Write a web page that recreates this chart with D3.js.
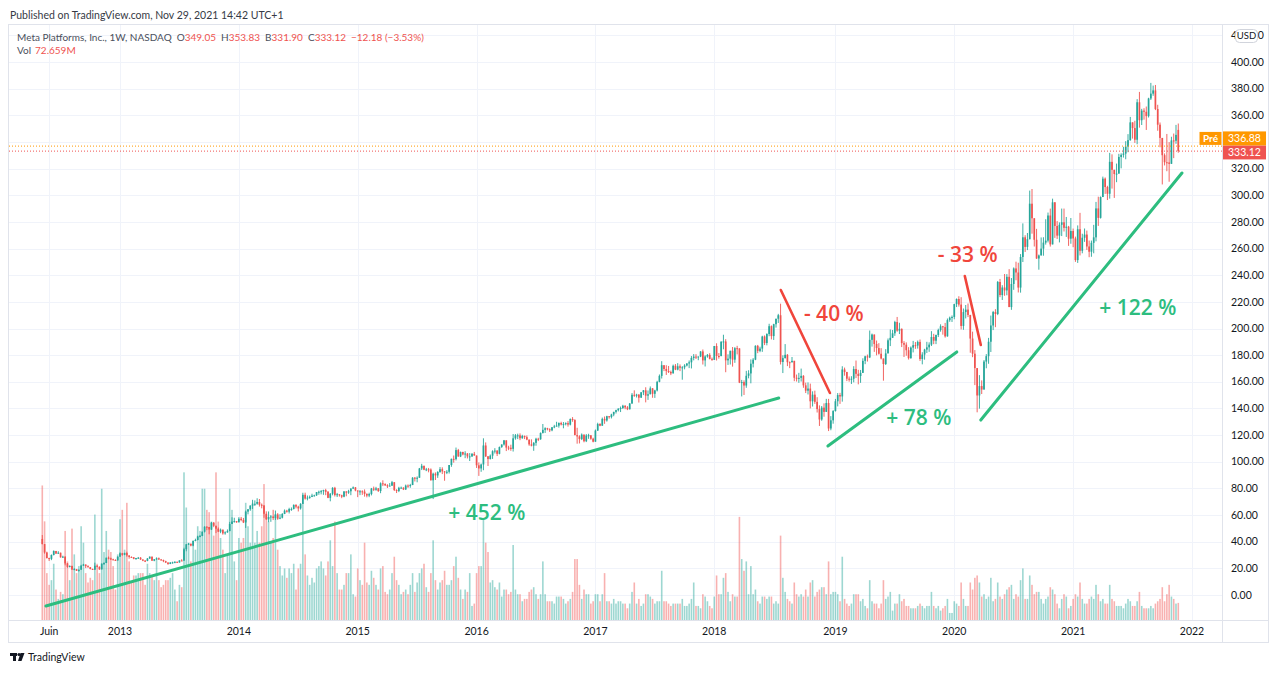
<!DOCTYPE html>
<html><head><meta charset="utf-8">
<script src="https://cdn.jsdelivr.net/npm/d3@7"></script>
<style>html,body{margin:0;padding:0;background:#fff;}svg{display:block;font-family:"Lato","Open Sans",sans-serif;}</style>
</head><body><svg id="c" width="1280" height="673"></svg>
<script>
// ---------- DATA (weekly bars, FB / META, from week of 14 May 2012) ----------
const firstWeek = new Date(2012, 4, 14);
const ipoOpen = 42.05;
const lastOpen = 349.05, lastHigh = 353.83, lastLow = 331.90, lastClose = 333.12;
const lastChange = "\u221212.18 (\u22123.53%)", lastVol = "72.659M";
const prePrice = 336.88;

const closes = [
/*2012*/38.23,31.91,27.72,27.10,30.01,33.05,31.10,31.73,28.25,28.76,23.71,21.09,21.81,19.05,19.41,18.06,18.98,22.00,22.86,21.66,20.91,19.52,19.00,21.94,21.18,19.21,23.56,24.00,28.00,27.49,26.81,26.26,25.91,
/*2013*/28.76,31.30,30.14,31.54,29.73,28.55,28.32,27.13,27.78,28.00,26.65,25.73,25.58,27.39,28.79,25.73,26.85,27.57,26.68,26.25,25.42,24.35,23.29,24.37,24.53,24.88,24.37,25.91,25.88,34.36,38.05,38.50,37.08,40.55,41.29,43.95,44.31,47.49,51.24,51.04,49.11,54.22,51.95,49.75,47.53,49.01,46.23,47.01,47.94,53.32,55.12,55.44,
/*2014*/54.56,57.22,56.30,54.45,62.57,64.32,67.09,68.06,68.46,69.80,67.72,67.24,60.97,56.75,58.53,58.94,57.71,60.46,57.24,58.02,60.78,63.30,62.50,64.50,64.50,67.60,66.29,64.97,68.42,75.19,72.36,73.06,73.63,74.57,74.82,77.26,77.48,77.91,78.70,77.44,72.91,75.95,80.42,74.99,75.60,74.88,73.75,77.70,76.84,77.83,79.88,80.78,
/*2015*/78.45,77.74,77.83,77.65,75.91,74.60,75.74,79.90,78.97,80.01,78.05,83.80,83.30,82.32,82.04,82.04,84.63,78.79,78.10,80.41,80.55,79.19,82.11,82.05,82.51,88.01,87.55,87.98,94.97,96.95,94.01,94.30,94.14,86.06,91.01,89.73,92.31,94.40,92.77,92.07,92.47,97.54,102.19,101.97,108.76,103.94,107.32,105.45,106.18,104.04,104.04,105.93,104.66,
/*2016*/97.33,94.97,97.94,112.21,104.07,102.01,104.57,107.92,108.39,105.96,111.02,112.95,116.06,110.63,110.51,109.66,117.58,119.81,119.81,117.65,119.38,118.47,116.62,113.02,112.08,114.19,117.24,116.86,121.63,123.94,125.15,124.38,123.56,125.86,126.51,127.10,129.07,127.96,128.27,128.99,127.88,132.07,131.29,120.00,119.02,117.02,120.38,115.40,119.68,119.87,117.27,115.05,
/*2017*/123.41,128.34,127.04,132.18,130.98,134.19,133.53,135.44,137.42,138.71,139.84,140.34,142.05,140.78,139.39,143.68,150.25,150.24,150.33,148.06,152.13,153.63,149.60,150.64,155.07,150.98,153.50,159.97,164.43,172.45,169.62,168.08,167.41,166.32,172.02,169.15,171.64,170.54,170.87,172.23,173.74,174.60,177.88,178.92,178.46,179.00,182.78,176.06,179.00,180.18,177.20,176.46,
/*2018*/186.85,179.37,179.26,190.00,190.28,176.11,177.36,183.29,176.62,185.23,185.09,159.39,159.79,157.20,164.52,166.28,173.59,176.61,186.99,183.20,184.92,193.99,189.10,195.85,201.74,194.32,203.23,207.32,209.94,174.89,177.78,180.26,174.70,174.65,175.73,163.04,162.32,162.93,164.46,157.33,153.35,154.92,145.37,150.35,144.96,139.53,131.73,140.61,137.42,144.06,124.95,131.09,
/*2019*/138.05,145.39,150.04,149.01,169.25,167.33,162.33,161.89,162.28,169.60,165.98,164.34,166.69,175.72,179.10,178.28,191.49,195.47,188.34,185.30,181.06,177.47,173.35,181.33,191.14,193.00,196.40,204.87,198.36,199.75,189.02,187.85,183.70,177.75,185.67,187.49,187.19,189.93,177.10,180.45,184.19,185.85,187.89,193.62,190.84,195.10,198.82,201.64,201.05,194.11,206.30,208.10,
/*2020*/208.67,218.30,222.14,217.94,201.91,212.33,214.18,210.18,192.47,181.09,170.28,149.73,156.79,154.18,175.19,179.24,190.07,202.27,212.35,210.88,234.91,225.09,230.77,228.58,238.79,216.08,233.42,245.07,242.03,230.71,253.67,268.44,261.24,267.01,293.66,282.73,266.61,252.53,254.82,259.94,264.45,265.93,284.79,263.11,294.68,276.95,269.70,277.81,279.70,275.55,276.40,267.40,273.16,
/*2021*/267.57,251.36,274.50,258.33,268.10,270.50,261.56,257.62,264.28,268.40,290.11,283.02,298.66,312.46,306.18,301.13,325.08,319.08,315.94,316.23,328.73,330.35,331.26,336.51,341.37,354.70,350.42,341.66,369.79,356.30,363.51,362.65,359.37,372.63,376.26,378.69,364.72,352.96,343.01,330.05,324.76,324.61,323.57,341.13,340.89,345.30,333.12
];
const highs = [
/*2012*/45.00,36.66,32.50,28.00,30.45,33.45,32.90,32.88,31.79,29.50,29.00,24.04,22.24,21.95,20.08,19.56,19.05,22.65,23.37,22.95,22.30,20.96,19.80,24.25,22.35,21.45,23.60,24.52,28.00,28.88,28.03,27.25,26.84,
/*2013*/28.93,31.96,31.60,31.71,32.51,29.17,28.99,28.37,27.80,28.55,28.43,26.75,26.26,27.75,28.90,28.50,27.00,28.24,28.15,27.04,26.57,25.72,24.58,24.72,25.00,25.39,25.12,26.11,26.86,35.49,38.29,39.00,38.49,40.59,42.26,44.49,45.08,47.60,51.60,51.60,51.04,54.83,54.80,52.00,50.71,49.88,49.13,47.74,49.20,54.88,58.32,57.97,
/*2014*/55.22,58.41,58.58,57.84,63.37,64.55,67.33,71.44,71.00,72.59,72.04,68.67,66.87,62.79,62.71,60.00,63.92,63.38,61.45,60.66,61.50,64.20,63.94,65.46,65.70,68.00,68.15,66.98,68.90,76.74,76.80,74.68,74.66,75.99,75.30,77.26,78.30,78.80,79.00,79.70,78.04,76.54,80.90,81.16,76.60,75.44,75.28,77.97,77.90,78.93,80.07,81.45,
/*2015*/81.00,78.46,78.80,78.60,79.25,76.22,76.74,80.34,81.37,81.16,80.29,84.50,86.07,83.85,83.13,84.00,85.59,84.73,79.38,81.20,81.35,80.85,82.85,82.99,83.42,88.45,88.55,89.00,95.34,98.45,97.08,95.40,95.35,95.00,91.80,92.00,92.90,96.00,95.83,92.99,93.76,97.54,102.35,104.67,110.65,109.65,107.68,107.52,107.90,106.54,106.50,106.50,107.37,
/*2016*/102.24,99.49,98.65,117.59,114.50,104.24,105.45,108.61,110.19,108.60,111.43,113.00,116.34,113.00,111.99,112.80,120.79,120.80,121.08,121.28,120.23,119.65,119.70,116.42,116.81,114.74,117.99,118.00,121.98,128.33,125.84,125.46,125.11,126.09,127.70,130.00,129.53,130.05,129.81,129.57,130.50,132.51,133.50,131.94,125.50,119.88,121.23,120.24,120.76,121.00,119.75,118.02,
/*2017*/124.20,129.27,128.93,133.14,133.98,134.50,134.20,136.02,137.48,139.04,140.15,141.43,142.72,142.35,141.78,144.09,151.53,153.60,151.00,150.80,152.25,153.80,155.89,153.48,156.50,155.29,153.99,160.74,165.50,175.49,171.45,172.44,171.87,168.40,172.92,173.33,174.00,173.05,171.76,173.21,174.00,176.00,179.33,180.80,180.74,179.00,183.00,184.25,179.91,180.85,181.45,178.24,
/*2018*/186.90,188.90,181.58,190.55,195.32,192.00,180.60,183.32,186.10,186.02,187.00,177.17,161.42,161.10,168.23,168.66,176.80,177.77,187.40,187.67,186.33,194.55,194.80,196.39,203.55,202.30,203.55,207.32,210.98,218.62,179.88,188.30,180.76,175.28,178.60,175.75,165.44,166.73,169.92,164.98,159.36,159.53,158.64,152.86,153.35,148.43,142.31,141.84,143.81,147.19,147.19,134.24,
/*2019*/138.75,147.13,151.55,151.69,171.68,170.66,167.48,164.00,164.19,171.70,175.96,169.00,168.87,177.65,179.56,180.43,198.48,196.18,193.63,190.98,189.00,185.24,173.80,184.50,192.49,199.26,198.88,205.78,208.66,204.30,200.04,190.50,189.60,186.00,186.54,190.70,189.82,190.97,191.73,182.21,184.76,190.00,189.63,198.00,196.00,195.42,199.86,203.14,201.97,204.19,207.50,208.93,
/*2020*/209.79,218.54,222.56,224.20,223.49,215.00,217.64,218.77,208.00,197.64,183.80,169.17,165.00,161.06,176.30,180.79,192.96,209.69,213.20,214.50,235.67,237.20,232.50,240.90,240.83,244.55,237.87,245.84,250.15,249.35,255.85,278.89,270.00,271.68,303.50,304.67,280.00,274.78,255.50,268.33,268.48,282.00,287.00,289.97,297.44,294.88,280.60,279.62,290.00,290.00,283.70,277.00,282.92,
/*2021*/275.00,268.95,277.36,286.79,271.13,275.04,273.48,266.00,266.00,277.78,295.00,298.90,299.12,314.00,313.35,307.10,331.81,330.69,318.39,323.76,331.09,331.49,336.34,340.60,345.86,358.79,354.70,355.90,372.12,377.55,364.84,365.29,366.58,373.15,384.33,382.30,382.76,367.90,354.60,338.98,331.39,346.00,339.86,343.91,346.31,352.80,353.83
];
const lows = [
/*2012*/38.00,31.00,27.39,25.52,26.15,29.70,30.76,30.80,28.10,27.90,22.28,20.40,20.70,18.98,18.88,18.02,17.55,19.24,21.90,20.20,20.50,19.22,18.80,18.83,20.80,18.87,19.50,22.55,25.10,26.76,26.26,26.00,25.60,
/*2013*/26.11,28.65,29.42,29.88,28.74,27.25,27.94,26.82,26.34,27.07,26.35,25.39,24.72,25.33,27.10,25.70,25.35,26.36,26.30,25.85,24.63,23.96,22.67,23.18,23.52,23.84,24.15,24.32,25.50,25.51,32.80,37.57,36.53,36.60,40.26,41.03,43.30,44.15,46.92,48.64,45.55,48.78,50.90,46.44,47.25,46.38,45.26,45.25,46.71,48.59,53.35,54.37,
/*2014*/54.19,54.48,55.38,54.00,50.34,60.50,63.20,64.56,66.85,67.74,66.33,65.05,57.98,56.50,54.66,54.92,56.25,56.27,56.40,56.87,57.46,60.70,61.80,61.19,63.20,64.25,65.00,62.69,64.10,68.41,71.59,71.02,72.19,73.48,73.90,74.31,75.23,75.51,75.17,74.90,72.66,70.32,74.82,73.91,73.52,73.85,72.66,73.34,74.08,75.90,74.90,79.50,
/*2015*/77.84,73.45,74.94,75.12,73.82,73.29,73.43,74.74,78.02,78.22,77.29,76.40,81.75,81.79,80.30,81.81,81.88,78.03,76.52,77.21,79.91,78.76,78.81,80.38,80.48,82.65,85.20,84.59,88.30,93.78,93.67,92.94,92.06,85.97,72.00,86.30,87.89,91.70,90.75,85.75,90.72,91.15,96.20,99.30,100.99,103.76,103.50,104.81,102.69,102.48,100.55,103.57,104.58,
/*2016*/95.35,89.37,92.45,93.64,103.58,96.82,101.74,102.12,106.20,104.30,105.57,110.44,112.14,108.02,108.69,108.23,107.65,116.54,117.00,116.20,117.24,117.00,116.17,111.98,111.53,108.23,112.00,115.50,116.49,121.19,121.61,123.54,122.31,122.91,125.17,126.69,125.59,127.25,125.10,127.29,126.37,127.29,130.00,119.85,113.55,113.75,116.27,114.58,114.76,117.21,116.52,114.56,
/*2017*/116.50,123.10,126.65,127.01,128.46,130.10,132.33,132.50,134.16,136.21,137.76,137.30,139.55,139.41,138.75,139.18,143.55,148.70,148.23,144.42,148.69,150.02,144.56,146.42,151.40,148.01,147.92,152.78,159.63,162.47,168.03,165.15,166.60,165.02,166.25,168.74,168.61,168.02,161.56,169.36,171.54,170.27,170.02,176.10,177.12,176.20,178.51,172.95,171.50,178.08,176.80,175.75,
/*2018*/177.68,176.00,177.40,180.00,184.40,167.18,172.66,172.98,171.38,174.23,180.52,159.02,149.02,150.11,155.50,162.60,158.86,170.80,176.23,181.48,182.22,182.47,187.56,187.35,194.22,191.80,191.40,200.68,204.16,173.00,166.56,177.50,171.77,170.27,174.51,160.45,160.20,159.22,160.20,155.50,151.55,150.50,140.00,141.44,143.40,136.95,126.85,130.78,133.80,138.06,123.02,123.63,
/*2019*/128.56,137.67,141.55,143.43,145.10,164.58,160.51,160.10,158.38,159.59,162.81,158.09,159.22,167.50,173.24,175.21,177.80,186.40,182.46,179.85,180.41,176.82,160.84,172.60,181.38,186.80,193.48,194.47,197.54,195.83,186.07,178.63,179.58,176.70,177.31,182.05,184.74,184.92,175.66,173.10,176.61,181.64,182.47,186.85,188.26,188.28,193.59,197.60,195.37,193.15,193.85,205.04,
/*2020*/204.92,206.95,216.08,216.40,199.30,199.01,207.56,208.58,181.82,178.48,157.51,137.10,139.85,150.83,160.80,170.15,173.53,182.37,198.81,201.00,210.03,223.50,221.39,224.56,224.93,216.08,214.00,229.02,236.20,227.05,226.90,249.90,257.42,258.83,266.90,271.15,261.53,252.29,244.13,256.34,254.61,262.95,264.60,261.47,263.67,268.00,267.20,264.60,269.36,272.80,268.72,262.00,263.61,
/*2021*/261.02,250.00,249.21,254.84,256.43,265.00,258.96,253.50,253.83,256.44,265.42,277.00,282.51,299.73,301.00,296.41,297.46,305.00,298.00,309.80,319.33,320.20,328.27,327.00,332.29,340.91,342.50,339.30,338.26,350.73,352.71,356.71,349.00,358.34,371.50,374.63,363.90,348.40,336.02,308.11,322.38,318.04,310.12,327.59,327.86,338.62,331.90
];
// weekly volume, millions of shares
const volumes = [
/*2012*/574,421,200,150,170,240,130,90,120,110,380,250,170,390,280,200,230,400,330,200,160,180,170,450,240,200,560,290,380,300,290,230,130,
/*2013*/280,430,470,300,500,250,160,190,190,200,200,200,150,240,200,190,170,260,170,140,150,170,170,180,200,130,80,150,140,630,480,330,250,340,300,400,380,560,560,470,460,420,360,630,420,350,300,200,280,560,470,250,
/*2014*/170,350,330,350,500,400,330,500,330,380,330,400,580,450,420,330,350,450,300,230,190,220,180,220,200,240,130,220,240,500,280,190,150,180,160,220,230,250,220,190,250,340,230,420,200,130,130,150,200,200,280,110,
/*2015*/100,220,170,150,330,160,150,210,180,150,130,220,230,120,110,130,200,270,170,150,110,120,130,110,150,200,120,160,200,220,240,140,120,200,340,170,130,160,170,210,150,150,170,230,270,180,130,90,130,120,200,60,70,
/*2016*/200,230,230,430,330,290,160,170,140,130,160,100,130,130,110,120,320,130,110,110,80,90,90,120,130,140,110,90,110,250,110,80,80,80,70,100,100,100,90,70,80,90,120,260,260,150,90,130,110,110,70,80,
/*2017*/110,110,80,110,200,80,80,70,90,70,80,80,70,70,50,70,120,160,70,90,60,70,110,110,100,90,70,80,80,210,80,80,70,60,70,70,70,70,90,60,60,70,90,160,60,60,50,110,100,80,60,50,
/*2018*/100,190,110,110,180,200,120,80,110,100,100,440,260,210,250,110,230,110,130,80,70,100,100,90,100,100,70,80,70,360,180,120,90,80,70,160,110,100,110,100,130,100,160,170,100,120,130,140,140,110,250,110,
/*2019*/120,120,110,80,270,90,70,60,70,110,110,110,80,90,60,50,170,80,70,70,50,70,170,90,100,120,40,70,70,110,80,90,60,60,50,50,50,60,70,60,50,60,60,120,60,50,60,40,50,60,90,30,
/*2020*/30,80,70,60,160,90,60,60,160,130,180,190,160,100,110,90,100,180,80,90,160,100,90,110,130,140,150,90,110,100,170,220,90,90,190,150,110,120,120,90,70,90,100,140,130,110,70,50,90,110,100,50,60,
/*2021*/90,110,100,160,90,70,70,90,100,90,150,110,80,90,70,70,150,90,80,60,60,60,50,70,90,80,60,60,80,120,60,50,50,50,60,50,70,80,90,140,80,110,150,100,90,70,73
];
const priceTicks = d3.range(0, 421, 20);
const timeLabels = ["Juin","2013","2014","2015","2016","2017","2018","2019","2020","2021","2022"];
const timeLabelWeeks = [new Date(2012,5,4),new Date(2013,0,7),new Date(2014,0,6),new Date(2015,0,5),new Date(2016,0,4),new Date(2017,0,2),new Date(2018,0,1),new Date(2019,0,7),new Date(2020,0,6),new Date(2021,0,4),new Date(2022,0,3)];
// drawn trend lines: [week index from first bar, price]
const trendLines = [
  {from:[1.6,-8.3],  to:[322.2,147.8], kind:"up"},
  {from:[323.1,228.9], to:[344.6,151.6], kind:"down"},
  {from:[343.7,111.8], to:[400.1,182.4], kind:"up"},
  {from:[403.6,239.4], to:[410.6,187.6], kind:"down"},
  {from:[410.6,131.3], to:[498.6,316.7], kind:"up"}
];
const moveLabels = [
  {text:"+ 452 %", at:[194.5,62.3],  kind:"up"},
  {text:"- 40 %",  at:[346.3,211.6], kind:"down"},
  {text:"+ 78 %",  at:[383.5,133.6], kind:"up"},
  {text:"- 33 %",  at:[404.9,255.9], kind:"down"},
  {text:"+ 122 %", at:[479.3,216.1], kind:"up"}
];

// ---------- LAYOUT ----------
const W = 1280, H = 673;
const paneL = 9, paneR = 1222.5, paneT = 24.5, paneB = 620.5, frameR = 1268.5, frameB = 642.5;
const upCol = "#26a69a", downCol = "#ef5350";
const upVol = "rgba(38,166,154,0.45)", downVol = "rgba(239,83,80,0.45)";
const drawCol = {up:"#2dbd7f", down:"#f0453b"};

const svg = d3.select("#c");
const N = closes.length;
const dates = d3.range(N).map(i => d3.timeMonday.offset(firstWeek, i));
const x = d3.scaleTime().domain([new Date(2013,0,7), new Date(2022,0,3)]).range([120, 1192]);
const y = d3.scaleLinear().domain([0, 400]).range([595, 62]);
const yv = d3.scaleLinear().domain([0, 640]).range([620, 470]);
const xIdx = i => x(new Date(firstWeek.getTime() + i * 7 * 864e5));

svg.append("rect").attr("width", W).attr("height", H).attr("fill", "#fff");
svg.append("defs").append("clipPath").attr("id","pane").append("rect")
  .attr("x", paneL).attr("y", paneT).attr("width", paneR - paneL).attr("height", paneB - paneT);

// grid
const grid = svg.append("g").attr("stroke", "#f0f3fa").attr("stroke-width", 1);
priceTicks.filter(t => y(t) > paneT + 2).forEach(t => {
  grid.append("line").attr("x1", paneL).attr("x2", paneR).attr("y1", Math.round(y(t)) + 0.5).attr("y2", Math.round(y(t)) + 0.5);
});
timeLabelWeeks.forEach(d => {
  const xx = Math.round(x(d)) + 0.5;
  grid.append("line").attr("x1", xx).attr("x2", xx).attr("y1", paneT).attr("y2", paneB);
});

const plot = svg.append("g").attr("clip-path", "url(#pane)");

const bars = d3.range(N).map(i => {
  const o = i === 0 ? ipoOpen : (i === N - 1 ? lastOpen : closes[i - 1]);
  const c = closes[i];
  return {d: dates[i], o, c, h: Math.max(highs[i], o, c), l: Math.min(lows[i], o, c), v: volumes[i], up: c >= o};
});

// volume
plot.append("g").selectAll("rect").data(bars).join("rect")
  .attr("x", d => x(d.d) - 0.8).attr("width", 1.6)
  .attr("y", d => yv(d.v)).attr("height", d => yv(0) - yv(d.v))
  .attr("fill", d => d.up ? upVol : downVol);

// candles
const cg = plot.append("g");
cg.selectAll("line").data(bars).join("line")
  .attr("x1", d => x(d.d)).attr("x2", d => x(d.d))
  .attr("y1", d => y(d.h)).attr("y2", d => y(d.l))
  .attr("stroke", d => d.up ? upCol : downCol).attr("stroke-width", 0.9);
cg.selectAll("rect").data(bars).join("rect")
  .attr("x", d => x(d.d) - 0.85).attr("width", 1.7)
  .attr("y", d => y(Math.max(d.o, d.c)))
  .attr("height", d => Math.max(1, Math.abs(y(d.o) - y(d.c))))
  .attr("fill", d => d.up ? upCol : downCol);

// price lines
plot.append("line").attr("x1", paneL).attr("x2", paneR).attr("y1", y(prePrice)).attr("y2", y(prePrice))
  .attr("stroke", "#ff9800").attr("stroke-width", 1).attr("stroke-dasharray", "1,2");
plot.append("line").attr("x1", paneL).attr("x2", paneR).attr("y1", y(lastClose)).attr("y2", y(lastClose))
  .attr("stroke", downCol).attr("stroke-width", 1).attr("stroke-dasharray", "1,2");

// drawings
plot.append("g").selectAll("line").data(trendLines).join("line")
  .attr("x1", d => xIdx(d.from[0])).attr("y1", d => y(d.from[1]))
  .attr("x2", d => xIdx(d.to[0])).attr("y2", d => y(d.to[1]))
  .attr("stroke", d => drawCol[d.kind]).attr("stroke-width", d => d.kind === "up" ? 3 : 2.6)
  .attr("stroke-linecap", "round");
plot.append("g").selectAll("text").data(moveLabels).join("text")
  .attr("x", d => xIdx(d.at[0])).attr("y", d => y(d.at[1])).attr("dy", "0.36em")
  .attr("text-anchor", "middle").attr("font-family", "'Open Sans', sans-serif")
  .attr("font-weight", 600).attr("font-size", 21)
  .attr("fill", d => drawCol[d.kind]).text(d => d.text);

// frame + separators
const fr = svg.append("g").attr("stroke", "#e0e3eb").attr("fill", "none");
fr.append("rect").attr("x", 8.5).attr("y", paneT).attr("width", frameR - 8.5).attr("height", frameB - paneT);
fr.append("line").attr("x1", paneR).attr("x2", paneR).attr("y1", paneT).attr("y2", frameB);
fr.append("line").attr("x1", 8.5).attr("x2", frameR).attr("y1", paneB).attr("y2", paneB);

// price tags positions (ticks under the tags are hidden, as in the reference)
const redC = y(lastClose) + 1.3, oraC = redC - 14;
const tagTop = oraC - 7, tagBot = redC + 7;

// price axis labels (the top one is mostly hidden under the currency badge)
const pa = svg.append("g").attr("font-size", 10.5).attr("fill", "#131722");
priceTicks.filter(t => y(t) < tagTop - 5 || y(t) > tagBot + 5).forEach(t => {
  pa.append("text").attr("x", 1231).attr("y", y(t)).attr("dy", "0.35em").text(t.toFixed(2));
});
// USD badge
svg.append("rect").attr("x", 1235.5).attr("y", 29.5).attr("width", 22).attr("height", 13).attr("rx", 4)
  .attr("fill", "#fff").attr("stroke", "#d1d4dc");
svg.append("text").attr("x", 1246.5).attr("y", 36).attr("dy", "0.35em").attr("text-anchor", "middle")
  .attr("font-size", 9.5).attr("fill", "#131722").text("USD");

svg.append("rect").attr("x", 1223).attr("y", redC - 7).attr("width", 43).attr("height", 14).attr("fill", downCol);
svg.append("text").attr("x", 1244.5).attr("y", redC).attr("dy", "0.36em").attr("text-anchor", "middle")
  .attr("font-size", 10.5).attr("fill", "#fff").text(lastClose.toFixed(2));
svg.append("rect").attr("x", 1223).attr("y", oraC - 7).attr("width", 43).attr("height", 14).attr("fill", "#ff9800");
svg.append("text").attr("x", 1244.5).attr("y", oraC).attr("dy", "0.36em").attr("text-anchor", "middle")
  .attr("font-size", 10.5).attr("fill", "#fff").text(prePrice.toFixed(2));
svg.append("rect").attr("x", 1199.5).attr("y", oraC - 6.5).attr("width", 22).attr("height", 13).attr("fill", "#ff9800");
svg.append("text").attr("x", 1210.5).attr("y", oraC).attr("dy", "0.36em").attr("text-anchor", "middle")
  .attr("font-size", 10).attr("font-weight", 700).attr("fill", "#fff").text("Pré");

// time axis labels
const ta = svg.append("g").attr("font-size", 10.5).attr("fill", "#131722").attr("text-anchor", "middle");
timeLabels.forEach((lab, i) => {
  ta.append("text").attr("x", x(timeLabelWeeks[i])).attr("y", 631.5).attr("dy", "0.35em").text(lab);
});

// header
svg.append("text").attr("x", 10).attr("y", 15).attr("dy", "0.35em").attr("font-size", 10.5).attr("fill", "#363a45")
  .text("Published on TradingView.com, Nov 29, 2021 14:42 UTC+1");
const l1 = 37, l2 = 50;
const h1 = svg.append("text").attr("x", 17).attr("y", l1).attr("dy", "0.35em").attr("font-size", 10);
h1.append("tspan").attr("fill", "#4a4f5c").text("Meta Platforms, Inc., 1W, NASDAQ");
[["O", lastOpen], ["H", lastHigh], ["B", lastLow], ["C", lastClose]].forEach(([k, v]) => {
  h1.append("tspan").attr("dx", 5).attr("fill", "#4a4f5c").text(k);
  h1.append("tspan").attr("fill", downCol).text(v.toFixed(2));
});
h1.append("tspan").attr("dx", 5).attr("fill", downCol).text(lastChange);
const vt = svg.append("text").attr("x", 17).attr("y", l2).attr("dy", "0.35em").attr("font-size", 10);
vt.append("tspan").attr("fill", "#4a4f5c").text("Vol");
vt.append("tspan").attr("dx", 4).attr("fill", downCol).text(lastVol);

// footer logo
const lg = svg.append("g").attr("fill", "#131722");
lg.append("rect").attr("x", 10).attr("y", 653).attr("width", 7).attr("height", 3);
lg.append("rect").attr("x", 13).attr("y", 653).attr("width", 3).attr("height", 8);
lg.append("circle").attr("cx", 19).attr("cy", 654.5).attr("r", 1.6);
lg.append("path").attr("d", "M20.5,653 L24.5,653 L21.5,661 L18,661 Z");
svg.append("text").attr("x", 28).attr("y", 657).attr("dy", "0.35em").attr("font-size", 10.5).attr("fill", "#131722").text("TradingView");
</script></body></html>
